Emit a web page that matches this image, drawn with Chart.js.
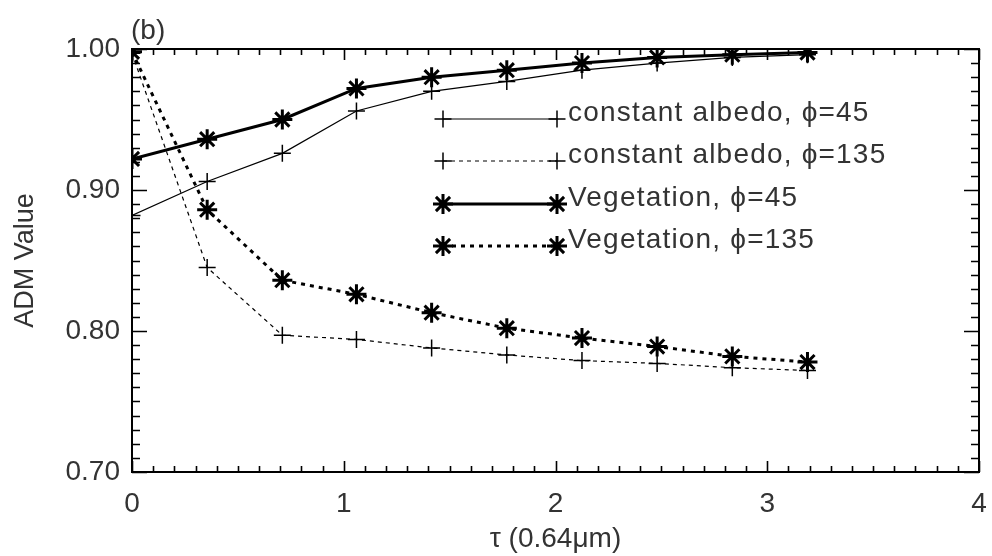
<!DOCTYPE html>
<html>
<head>
<meta charset="utf-8">
<script src="https://cdn.jsdelivr.net/npm/chart.js@4"></script>
<style>
  html, body { margin: 0; padding: 0; background: #fff; }
</style>
</head>
<body>
<canvas id="grafico" width="992" height="556"></canvas>
<script>
// optical depth at 0.64 um
var tau = [0, 0.355, 0.71, 1.06, 1.415, 1.77, 2.125, 2.48, 2.835, 3.19];

var constante45  = [0.882, 0.906, 0.926, 0.956, 0.970, 0.977, 0.985, 0.990, 0.994, 0.996];
var constante135 = [0.997, 0.845, 0.797, 0.794, 0.788, 0.783, 0.779, 0.777, 0.774, 0.772];
var vegetacao45  = [0.922, 0.936, 0.950, 0.972, 0.980, 0.985, 0.990, 0.994, 0.996, 0.9975];
var vegetacao135 = [0.998, 0.886, 0.836, 0.826, 0.813, 0.802, 0.795, 0.789, 0.782, 0.778];

var nomes = ['constant albedo, \u03d5=45', 'constant albedo, \u03d5=135', 'Vegetation, \u03d5=45', 'Vegetation, \u03d5=135'];

var ticksX = [0, 1, 2, 3, 4];
var ticksY = [0.70, 0.80, 0.90, 1.00];

var fonte = '"Liberation Sans", Arial, sans-serif';
var corTexto = '#333';

function pontos(valores) {
    var lista = [];
    for (var i = 0; i < tau.length; i++) {
        lista.push({ x: tau[i], y: valores[i] });
    }
    return lista;
}

// moldura com ticks internos nos quatro lados, legenda e rotulo (b)
var molduraIDL = {
    id: 'molduraIDL',
    afterDraw: function (chart) {
        var ctx = chart.ctx;
        var area = chart.chartArea;
        var sx = chart.scales.x;
        var sy = chart.scales.y;
        ctx.save();
        ctx.strokeStyle = '#000';
        ctx.lineWidth = 2;
        ctx.strokeRect(area.left, area.top, area.right - area.left, area.bottom - area.top);

        ctx.lineWidth = 1.6;
        ctx.beginPath();
        for (var i = 0; i <= 40; i++) {
            var px = Math.round(sx.getPixelForValue(i / 10)) + 0.5;
            var lx = (i % 10 == 0) ? 11 : 6;
            ctx.moveTo(px, area.bottom); ctx.lineTo(px, area.bottom - lx);
            ctx.moveTo(px, area.top); ctx.lineTo(px, area.top + lx);
        }
        for (var j = 70; j <= 100; j++) {
            var py = Math.round(sy.getPixelForValue(j / 100)) + 0.5;
            var ly = (j % 10 == 0) ? 15 : 8;
            ctx.moveTo(area.left, py); ctx.lineTo(area.left + ly, py);
            ctx.moveTo(area.right, py); ctx.lineTo(area.right - ly, py);
        }
        ctx.stroke();

        // legenda
        var x1 = area.left + 311;
        var x2 = area.left + 425;
        var linhas = [119, 161, 204, 246];
        chart.data.datasets.forEach(function (ds, k) {
            var y = linhas[k];
            ctx.save();
            ctx.strokeStyle = ds.borderColor;
            ctx.lineWidth = ds.borderWidth;
            ctx.setLineDash(ds.borderDash || []);
            ctx.beginPath();
            ctx.moveTo(x1, y);
            ctx.lineTo(x2, y);
            ctx.stroke();
            ctx.setLineDash([]);
            ctx.lineWidth = ds.pointBorderWidth;
            var opt = { pointStyle: ds.pointStyle, radius: ds.pointRadius, borderWidth: ds.pointBorderWidth, rotation: 0 };
            Chart.helpers.drawPoint(ctx, opt, x1, y);
            Chart.helpers.drawPoint(ctx, opt, x2, y);
            ctx.restore();

            ctx.fillStyle = corTexto;
            ctx.font = '28px ' + fonte;
            ctx.letterSpacing = '1.2px';
            ctx.textBaseline = 'alphabetic';
            ctx.textAlign = 'left';
            ctx.fillText(ds.label, x2 + 11, y + 2);
        });

        ctx.letterSpacing = '0px';
        ctx.fillStyle = corTexto;
        ctx.font = '28px ' + fonte;
        ctx.textAlign = 'left';
        ctx.textBaseline = 'middle';
        ctx.fillText('(b)', area.left - 1, area.top - 18);
        ctx.restore();
    }
};

var graficoMedicao = document.getElementById('grafico');

new Chart(graficoMedicao, {
    type: 'line',
    data: {
        datasets: [{
            label: nomes[0],
            data: pontos(constante45),
            borderColor: '#000',
            borderWidth: 1.2,
            pointStyle: 'cross',
            pointRadius: 8.5,
            pointBorderWidth: 1.5,
            pointBorderColor: '#000'
        }, {
            label: nomes[1],
            data: pontos(constante135),
            borderColor: '#000',
            borderWidth: 1.2,
            borderDash: [4, 4],
            pointStyle: 'cross',
            pointRadius: 8.5,
            pointBorderWidth: 1.5,
            pointBorderColor: '#000'
        }, {
            label: nomes[2],
            data: pontos(vegetacao45),
            borderColor: '#000',
            borderWidth: 3,
            pointStyle: 'star',
            pointRadius: 10,
            pointBorderWidth: 3,
            pointBorderColor: '#000'
        }, {
            label: nomes[3],
            data: pontos(vegetacao135),
            borderColor: '#000',
            borderWidth: 3,
            borderDash: [4, 5],
            pointStyle: 'star',
            pointRadius: 10,
            pointBorderWidth: 3,
            pointBorderColor: '#000'
        }]
    },
    options: {
        responsive: false,
        animation: false,
        events: [],
        layout: { padding: { left: 0, right: 0, top: 49, bottom: 0 } },
        plugins: {
            legend: { display: false },
            tooltip: { enabled: false }
        },
        scales: {
            x: {
                type: 'linear',
                min: 0,
                max: 4,
                afterFit: function (scale) { scale.height = 84; },
                afterBuildTicks: function (scale) {
                    scale.ticks = ticksX.map(function (v) { return { value: v }; });
                },
                // marcas invisiveis so para afastar os rotulos do eixo
                grid: { display: true, drawOnChartArea: false, drawTicks: true, tickLength: 15, color: 'rgba(0,0,0,0)' },
                border: { display: false },
                ticks: {
                    padding: 0,
                    color: corTexto,
                    font: { family: fonte, size: 28 },
                    maxRotation: 0,
                    callback: function (v) { return String(v); }
                },
                title: {
                    display: true,
                    text: '\u03c4 (0.64\u03bcm)',
                    color: corTexto,
                    font: { family: fonte, size: 28 },
                    padding: { top: 0, bottom: 0 }
                }
            },
            y: {
                type: 'linear',
                min: 0.70,
                max: 1.00,
                afterFit: function (scale) { scale.width = 132; },
                afterBuildTicks: function (scale) {
                    scale.ticks = ticksY.map(function (v) { return { value: v }; });
                },
                grid: { display: false, drawTicks: false },
                border: { display: false },
                ticks: {
                    padding: 12,
                    color: corTexto,
                    font: { family: fonte, size: 28 },
                    callback: function (v) { return Number(v).toFixed(2); }
                },
                title: {
                    display: true,
                    text: 'ADM Value',
                    color: corTexto,
                    font: { family: fonte, size: 27 },
                    padding: { top: 9, bottom: 0 }
                }
            }
        }
    },
    plugins: [molduraIDL]
});
</script>
</body>
</html>
